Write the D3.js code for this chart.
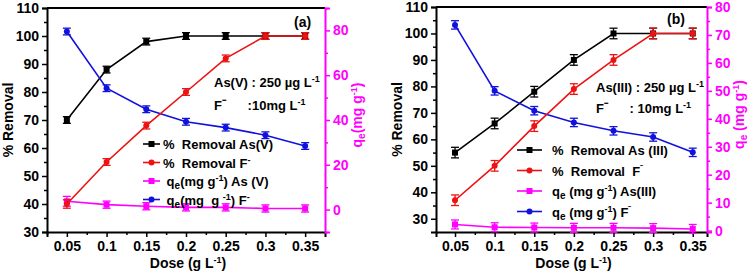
<!DOCTYPE html>
<html>
<head>
<meta charset="utf-8">
<script src="https://cdn.jsdelivr.net/npm/d3@7"></script>
<style>
  body { margin: 0; background: #fff; }
  svg { display: block; font-family: "Liberation Sans", Arial, sans-serif; font-weight: bold; }
  svg text { white-space: pre; }
</style>
</head>
<body>
<svg id="chart" width="750" height="273"></svg>
<script>
const doses = [0.05, 0.1, 0.15, 0.2, 0.25, 0.3, 0.35];
const xTicks = [0.05, 0.1, 0.15, 0.2, 0.25, 0.3, 0.35];

// panel (a) : As(V)
const aRemovalAs = [70, 88, 98, 100, 100, 100, 100];
const aRemovalF = [40, 55, 68, 80, 92, 100, 100];
const aQeAs = [3.7, 2.2, 1.5, 1.0, 1.0, 0.5, 0.5];
const aQeF = [79.5, 54.2, 44.8, 39.2, 36.6, 33.2, 28.4];
const aErrAs = [1.2, 1.2, 1.2, 1.2, 1.2, 1.2, 1.2];
const aErrF = [1.5, 1.2, 1.2, 1.2, 1.2, 1.2, 1.2];
const aErrQeAs = [2.2, 1.6, 1.6, 1.6, 1.6, 1.6, 1.6];
const aErrQeF = [1.5, 1.5, 1.5, 1.5, 1.5, 1.5, 1.5];

// panel (b) : As(III)
const bRemovalAs = [55, 66, 78, 90, 100, 100, 100];
const bRemovalF = [37, 50, 65, 79, 90, 100, 100];
const bQeAs = [2.2, 1.2, 1.1, 1.0, 1.0, 0.9, 0.6];
const bQeF = [73.6, 50, 42.9, 38.7, 35.7, 33.5, 28];
const bErrAs = [2, 2, 2, 2, 2, 2, 2];
const bErrF = [2, 2, 2, 2, 2, 2, 2];
const bErrQeAs = [1.6, 1.6, 1.6, 1.6, 1.6, 1.6, 1.6];
const bErrQeF = [1.5, 1.5, 1.5, 1.5, 1.5, 1.5, 1.5];

const colors = { black: '#000000', red: '#ee1111', magenta: '#ff00ff', blue: '#1111dd' };

const svg = d3.select('#chart');

function drawPanel(p) {
	const x = d3.scaleLinear().domain(p.xDomain).range([p.left, p.right]);
	const yL = d3.scaleLinear().domain(p.yLeftDomain).range([p.bottom, p.top]);
	const yR = d3.scaleLinear().domain(p.yRightDomain).range([p.bottom, p.top]);
	const g = svg.append('g');

	// axes
	const xAxis = d3.axisBottom(x).tickValues(xTicks).tickFormat(d3.format('')).tickSize(5).tickPadding(4);
	const xMinor = d3.axisBottom(x).tickValues(xTicks.map(d => d + 0.025).filter(d => d < p.xDomain[1]).concat([0.025].filter(d => d >= p.xDomain[0])))
		.tickFormat('').tickSize(3);
	const yAxisL = d3.axisLeft(yL).tickValues(p.yLeftTicks).tickSize(5).tickPadding(3);
	const yMinorL = d3.axisLeft(yL).tickValues(p.yLeftTicks.map(d => d + 5).filter(d => d < p.yLeftDomain[1])).tickFormat('').tickSize(3);
	const yAxisR = d3.axisRight(yR).tickValues(p.yRightTicks).tickSize(5).tickPadding(3);
	const yMinorR = d3.axisRight(yR).tickValues(p.yRightMinor).tickFormat('').tickSize(3);

	const styleAxis = (sel, color) => {
		sel.selectAll('path').attr('stroke', color).attr('stroke-width', 2);
		sel.selectAll('line').attr('stroke', color).attr('stroke-width', 1.5);
		sel.selectAll('text').attr('fill', color).attr('font-size', 14).attr('font-weight', 'bold')
			.attr('font-family', '"Liberation Sans", Arial, sans-serif');
	};

	// top spine
	g.append('line')
		.attr('x1', p.left).attr('x2', p.right).attr('y1', p.top).attr('y2', p.top)
		.attr('stroke', '#000').attr('stroke-width', 2);

	const gx = g.append('g').attr('transform', `translate(0,${p.bottom})`).call(xAxis);
	styleAxis(gx, '#000');
	const gxm = g.append('g').attr('transform', `translate(0,${p.bottom})`).call(xMinor);
	styleAxis(gxm, '#000');
	gxm.select('path').remove();
	const gyl = g.append('g').attr('transform', `translate(${p.left},0)`).call(yAxisL);
	styleAxis(gyl, '#000');
	const gylm = g.append('g').attr('transform', `translate(${p.left},0)`).call(yMinorL);
	styleAxis(gylm, '#000');
	gylm.select('path').remove();
	const gyr = g.append('g').attr('transform', `translate(${p.right},0)`).call(yAxisR);
	styleAxis(gyr, colors.magenta);
	const gyrm = g.append('g').attr('transform', `translate(${p.right},0)`).call(yMinorR);
	styleAxis(gyrm, colors.magenta);
	gyrm.select('path').remove();

	// axis titles
	g.append('text')
		.attr('transform', `translate(${p.left - 34},${(p.top + p.bottom) / 2}) rotate(-90)`)
		.attr('text-anchor', 'middle').attr('font-size', 14)
		.text('% Removal');
	const rt = g.append('text')
		.attr('transform', `translate(${p.right + 37},${(p.top + p.bottom) / 2 - 5}) rotate(-90)`)
		.attr('text-anchor', 'middle').attr('font-size', 14).attr('fill', colors.magenta);
	rt.append('tspan').text('q');
	rt.append('tspan').attr('font-size', 10).attr('dy', 3).text('e');
	rt.append('tspan').attr('dy', -3).text(p.rightLabelGap + '(mg g');
	rt.append('tspan').attr('font-size', 9).attr('dy', -5).text('-1');
	rt.append('tspan').attr('dy', 5).text(')');

	const xt = g.append('text')
		.attr('x', (p.left + p.right) / 2 + 2).attr('y', 268)
		.attr('text-anchor', 'middle').attr('font-size', 14);
	xt.append('tspan').text('Dose (g L');
	xt.append('tspan').attr('font-size', 9).attr('dy', -5).text('-1');
	xt.append('tspan').attr('dy', 5).text(')');

	// series
	const series = [
		{ values: p.removalAs, err: p.errAs, y: yL, color: colors.black, shape: 'square' },
		{ values: p.qeAs, err: p.errQeAs, y: yR, color: colors.magenta, shape: 'square' },
		{ values: p.qeF, err: p.errQeF, y: yR, color: colors.blue, shape: 'circle' },
		{ values: p.removalF, err: p.errF, y: yL, color: colors.red, shape: 'circle' }
	];

	series.forEach(s => {
		const pts = doses.map((d, i) => ({ x: d, v: s.values[i], e: s.err[i] }));
		const line = d3.line().x(d => x(d.x)).y(d => s.y(d.v));
		g.append('path').datum(pts)
			.attr('fill', 'none').attr('stroke', s.color).attr('stroke-width', 1.6)
			.attr('d', line);

		const eb = g.append('g').selectAll('g').data(pts).join('g')
			.attr('stroke', s.color).attr('stroke-width', 1.3);
		eb.append('line')
			.attr('x1', d => x(d.x)).attr('x2', d => x(d.x))
			.attr('y1', d => s.y(d.v - d.e)).attr('y2', d => s.y(d.v + d.e));
		eb.append('line')
			.attr('x1', d => x(d.x) - 4).attr('x2', d => x(d.x) + 4)
			.attr('y1', d => s.y(d.v - d.e)).attr('y2', d => s.y(d.v - d.e));
		eb.append('line')
			.attr('x1', d => x(d.x) - 4).attr('x2', d => x(d.x) + 4)
			.attr('y1', d => s.y(d.v + d.e)).attr('y2', d => s.y(d.v + d.e));

		if (s.shape === 'square') {
			g.append('g').selectAll('rect').data(pts).join('rect')
				.attr('x', d => x(d.x) - 3).attr('y', d => s.y(d.v) - 3)
				.attr('width', 6).attr('height', 6).attr('fill', s.color);
		} else {
			g.append('g').selectAll('circle').data(pts).join('circle')
				.attr('cx', d => x(d.x)).attr('cy', d => s.y(d.v))
				.attr('r', 3).attr('fill', s.color);
		}
	});

	// legend
	const leg = g.append('g').attr('transform', `translate(${p.legX},${p.legY})`);
	p.legend.forEach((item, i) => {
		const row = leg.append('g').attr('transform', `translate(0,${i * p.legStep})`);
		row.append('line').attr('x1', 0).attr('x2', p.legLine).attr('y1', 0).attr('y2', 0)
			.attr('stroke', item.color).attr('stroke-width', 1.6);
		if (item.shape === 'square') {
			row.append('rect').attr('x', p.legLine / 2 - 3).attr('y', -3).attr('width', 6).attr('height', 6).attr('fill', item.color);
		} else {
			row.append('circle').attr('cx', p.legLine / 2).attr('cy', 0).attr('r', 3).attr('fill', item.color);
		}
		const t = row.append('text').attr('x', p.legLine + p.legGap).attr('y', 5).attr('font-size', 13);
		item.parts.forEach(part => {
			const ts = t.append('tspan').text(part.t);
			if (part.sup) ts.attr('font-size', 9).attr('dy', -5);
			if (part.sub) ts.attr('font-size', 10).attr('dy', 3);
			if (part.dy) ts.attr('dy', part.dy);
		});
	});

	// annotations
	g.append('text').attr('x', p.tagX).attr('y', p.tagY).attr('font-size', 14).text(p.tag);
	p.notes.forEach((n, i) => {
		const t = g.append('text').attr('x', p.noteX).attr('y', p.noteY + i * p.noteStep).attr('font-size', 13);
		n.forEach(part => {
			const ts = t.append('tspan').text(part.t);
			if (part.sup) ts.attr('font-size', 9).attr('dy', -5);
			if (part.dy) ts.attr('dy', part.dy);
		});
	});
}

const minus = '\u207B';

drawPanel({
	left: 47, right: 325, top: 8, bottom: 232,
	xDomain: [0.025, 0.375],
	yLeftDomain: [30, 110], yLeftTicks: [30, 40, 50, 60, 70, 80, 90, 100, 110],
	yRightDomain: [-10, 90], yRightTicks: [0, 20, 40, 60, 80], yRightMinor: [-10, 10, 30, 50, 70, 90],
	rightLabelGap: '',
	removalAs: aRemovalAs, removalF: aRemovalF, qeAs: aQeAs, qeF: aQeF,
	errAs: aErrAs, errF: aErrF, errQeAs: aErrQeAs, errQeF: aErrQeF,
	legX: 143, legY: 144, legStep: 18.5, legLine: 17, legGap: 3,
	legend: [
		{ color: colors.black, shape: 'square', parts: [{ t: '%  Removal As(V)' }] },
		{ color: colors.red, shape: 'circle', parts: [{ t: '%  Removal F' }, { t: '-', sup: true }] },
		{ color: colors.magenta, shape: 'square', parts: [{ t: ' q' }, { t: 'e', sub: true }, { t: '(mg g', dy: -3 }, { t: '-1', sup: true }, { t: ') As (V)', dy: 5 }] },
		{ color: colors.blue, shape: 'circle', parts: [{ t: ' q' }, { t: 'e', sub: true }, { t: '(mg  g ', dy: -3 }, { t: '-1', sup: true }, { t: ') F', dy: 5 }, { t: '-', sup: true }] }
	],
	tag: '(a)', tagX: 294, tagY: 27,
	noteX: 214, noteY: 87, noteStep: 23,
	notes: [
		[{ t: 'As(V) : 250 \u00B5g L' }, { t: '-1', sup: true }],
		[{ t: 'F' }, { t: minus, dy: -2 }, { t: '      :10mg L', dy: 2 }, { t: '-1', sup: true }]
	]
});

drawPanel({
	left: 436, right: 707, top: 7, bottom: 232,
	xDomain: [0.026, 0.368],
	yLeftDomain: [25, 110], yLeftTicks: [30, 40, 50, 60, 70, 80, 90, 100, 110],
	yRightDomain: [-0.5, 80], yRightTicks: [0, 10, 20, 30, 40, 50, 60, 70, 80], yRightMinor: [5, 15, 25, 35, 45, 55, 65, 75],
	rightLabelGap: ' ',
	removalAs: bRemovalAs, removalF: bRemovalF, qeAs: bQeAs, qeF: bQeF,
	errAs: bErrAs, errF: bErrF, errQeAs: bErrQeAs, errQeF: bErrQeF,
	legX: 517, legY: 150, legStep: 20.5, legLine: 25, legGap: 10,
	legend: [
		{ color: colors.black, shape: 'square', parts: [{ t: '%  Removal As (III)' }] },
		{ color: colors.red, shape: 'circle', parts: [{ t: '%  Removal  F' }, { t: minus, sup: true }] },
		{ color: colors.magenta, shape: 'square', parts: [{ t: 'q' }, { t: 'e', sub: true }, { t: ' (mg g', dy: -3 }, { t: '-1', sup: true }, { t: ') As(III)', dy: 5 }] },
		{ color: colors.blue, shape: 'circle', parts: [{ t: 'q' }, { t: 'e', sub: true }, { t: ' (mg g', dy: -3 }, { t: '-1', sup: true }, { t: ') F', dy: 5 }, { t: minus, sup: true }] }
	],
	tag: '(b)', tagX: 667, tagY: 24,
	noteX: 596, noteY: 92, noteStep: 21,
	notes: [
		[{ t: 'As(III) : 250 \u00B5g L' }, { t: '-1', sup: true }],
		[{ t: 'F' }, { t: minus, dy: -2 }, { t: '      : 10mg L', dy: 2 }, { t: '-1', sup: true }]
	]
});
</script>
</body>
</html>
